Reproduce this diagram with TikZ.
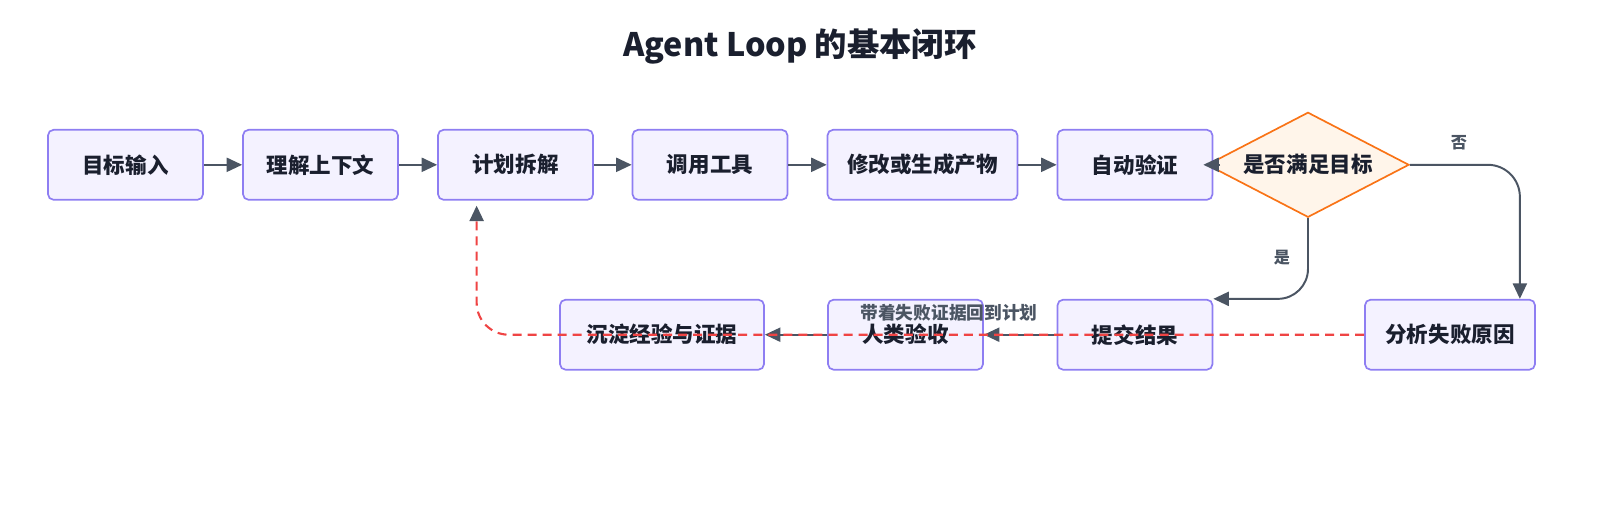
\documentclass[tikz,border=0pt]{standalone}
\usepackage{fontspec}
\setmainfont{Noto Sans CJK SC}
\usepackage{tikz}
\usetikzlibrary{arrows.meta,shapes.geometric,calc}
\definecolor{boxfill}{HTML}{F4F2FF}
\definecolor{boxline}{HTML}{8E7EF2}
\definecolor{decfill}{HTML}{FFF5EA}
\definecolor{decline}{HTML}{F97316}
\definecolor{arrgray}{HTML}{4B5563}
\definecolor{backred}{HTML}{EF4444}
\definecolor{inktext}{HTML}{1A1F2E}

\begin{document}
\begin{tikzpicture}[
    x=0.025cm, y=-0.025cm,
    stepbox/.style={draw=boxline, line width=1.2pt, fill=boxfill, rounded corners=4pt, minimum width=3.875cm, minimum height=1.75cm, align=center, text=inktext, font=\fontsize{15.3}{18}\selectfont\bfseries},
    decision/.style={diamond, draw=decline, line width=1.2pt, fill=decfill, inner sep=0pt, shape aspect=1.92, minimum width=5.05cm, minimum height=2.625cm, text=inktext, font=\fontsize{15.3}{18}\selectfont\bfseries},
    arr/.style={-{Triangle[length=11pt,width=10pt]}, line width=1.4pt, draw=arrgray},
    backarr/.style={-{Triangle[length=11pt,width=10pt,color=arrgray]}, line width=1.5pt, draw=backred, dash pattern=on 6.4pt off 4.3pt},
    edgelbl/.style={text=arrgray, font=\fontsize{11.5}{14}\selectfont\bfseries},
    backlbl/.style={text=arrgray, font=\fontsize{12.6}{15}\selectfont\bfseries}
]
\useasboundingbox (0,0) rectangle (1600,520);

\node[text=inktext, font=\fontsize{23}{27}\selectfont\bfseries] (title) at (800,46) {Agent Loop 的基本闭环};

\node[stepbox] (goal) at (125.5,164.8) {目标输入};
\node[stepbox] (ctx) at (320.5,164.8) {理解上下文};
\node[stepbox] (plan) at (515.5,164.8) {计划拆解};
\node[stepbox] (tool) at (710,164.8) {调用工具};
\node[stepbox, minimum width=4.75cm] (make) at (922.5,164.8) {修改或生成产物};
\node[stepbox] (check) at (1135,164.8) {自动验证};
\node[decision] (ok) at (1308,164.8) {是否满足目标};

\node[stepbox, minimum width=5.1cm] (keep) at (662,334.7) {沉淀经验与证据};
\node[stepbox] (human) at (905.5,334.7) {人类验收};
\node[stepbox] (submit) at (1135,334.7) {提交结果};
\node[stepbox, minimum width=4.25cm] (why) at (1450,334.7) {分析失败原因};

\draw[arr] (goal) -- (ctx);
\draw[arr] (ctx) -- (plan);
\draw[arr] (plan) -- (tool);
\draw[arr] (tool) -- (make);
\draw[arr] (make) -- (check);
\draw[arr] ([xshift=10pt]ok.west) -- ([xshift=-2pt]ok.west);
\draw[arr, rounded corners=0.75cm] (ok.south) |- (submit.north east);
\draw[arr, rounded corners=0.8cm] (ok.east) -| ($(why.north east)+(-16,0)$);
\draw[arr] (submit) -- (human);
\draw[arr] (human) -- (keep);

\node[edgelbl] (yeslbl) at (1282,258) {是};
\node[edgelbl] (nolbl) at (1459,143) {否};

\draw[backarr, rounded corners=0.8cm] (why.west) -| ($(plan.south west)+(39.5,5)$);
\node[backlbl] (backtxt) at (949,313) {带着失败证据回到计划};
\end{tikzpicture}
\end{document}
